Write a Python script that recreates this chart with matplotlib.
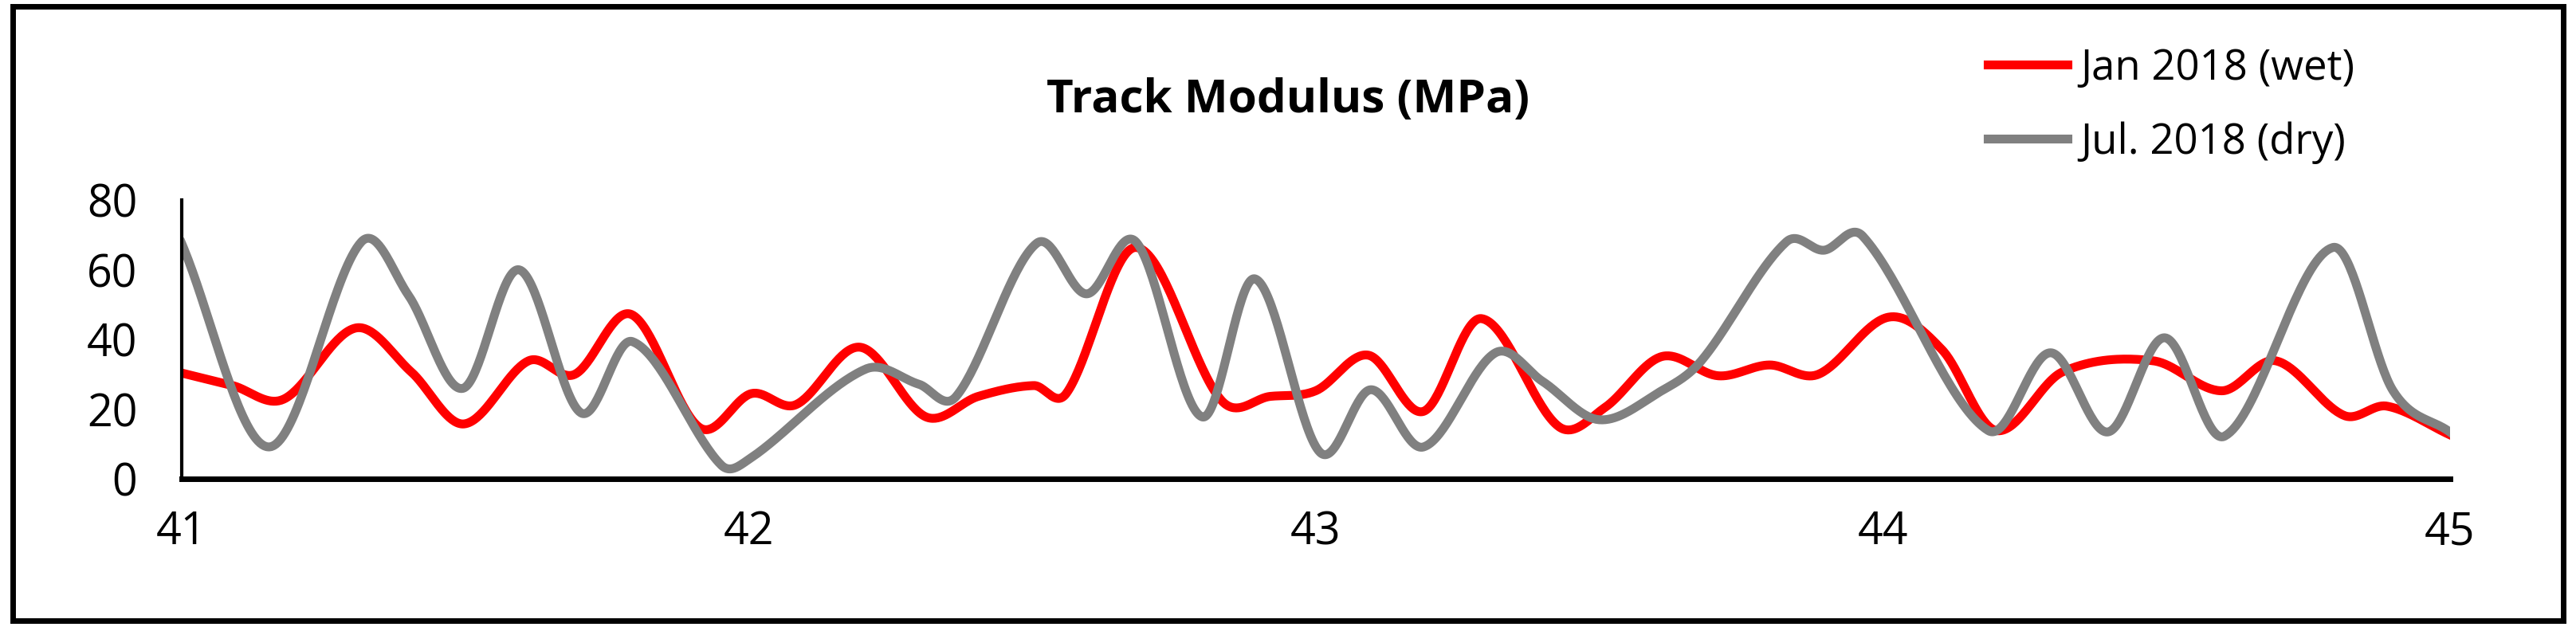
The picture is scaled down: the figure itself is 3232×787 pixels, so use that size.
import numpy as np
import matplotlib
matplotlib.use("Agg")
import matplotlib.pyplot as plt
from matplotlib.patches import Rectangle

plt.rcParams['font.family'] = ['Open Sans', 'DejaVu Sans']

jan_x = [41.0, 41.09, 41.18, 41.307, 41.405, 41.498, 41.612, 41.693, 41.793, 41.914, 42.005, 42.083, 42.196,
         42.313, 42.405, 42.503, 42.56, 42.683, 42.834, 42.92, 43.0, 43.093, 43.19, 43.292, 43.429, 43.51, 43.61,
         43.71, 43.80, 43.886, 44.01, 44.105, 44.20, 44.317, 44.477, 44.598, 44.693, 44.814, 44.889, 45.0]
jan_y = [30.4, 26.8, 22.9, 43.3, 30.7, 15.8, 33.9, 30.0, 47.2, 14.7, 24.5, 21.3, 37.8,
         17.8, 23.7, 26.8, 24.5, 66.4, 22.5, 23.7, 25.3, 35.5, 19.4, 46.0, 15.0, 20.5, 35.1,
         29.6, 32.7, 30.0, 46.4, 37.0, 13.9, 30.7, 33.9, 25.3, 33.9, 18.2, 20.9, 12.7]

jul_x = [41.0, 41.154, 41.317, 41.40, 41.496, 41.595, 41.704, 41.795, 41.951, 42.0, 42.206, 42.30, 42.366,
         42.508, 42.596, 42.683, 42.80, 42.893, 43.008, 43.097, 43.19, 43.317, 43.40, 43.50, 43.61, 43.68,
         43.83, 43.896, 43.965, 44.186, 44.296, 44.397, 44.497, 44.603, 44.794, 44.90, 45.0]
jul_y = [67.6, 9.2, 68.0, 52.7, 26.0, 60.0, 19.0, 39.4, 4.1, 5.6, 31.5, 27.2, 23.7,
         67.6, 53.1, 68.0, 17.8, 57.4, 7.6, 25.6, 9.2, 36.2, 28.0, 17.0, 25.3, 33.9,
         68.0, 65.6, 69.6, 13.9, 36.2, 13.5, 40.5, 12.3, 66.4, 25.3, 13.5]

labels = ["Jan 2018 (wet)", "Jul. 2018 (dry)"]
title = "Track Modulus (MPa)"


def smooth(xs, ys, n=40):
    # cubic Hermite through the points, tangents from neighbouring slopes
    x = np.asarray(xs, float); y = np.asarray(ys, float)
    m = np.zeros_like(y)
    m[1:-1] = (y[2:] - y[:-2]) / (x[2:] - x[:-2])
    m[0] = (y[1] - y[0]) / (x[1] - x[0])
    m[-1] = (y[-1] - y[-2]) / (x[-1] - x[-2])
    ox, oy = [], []
    t = np.linspace(0, 1, n, endpoint=False)
    for i in range(len(x) - 1):
        h = x[i+1] - x[i]
        h00 = 2*t**3 - 3*t**2 + 1; h10 = t**3 - 2*t**2 + t
        h01 = -2*t**3 + 3*t**2; h11 = t**3 - t**2
        ox.extend(x[i] + h*t)
        oy.extend(h00*y[i] + h10*h*m[i] + h01*y[i+1] + h11*h*m[i+1])
    ox.append(x[-1]); oy.append(y[-1])
    return np.array(ox), np.array(oy)


fig = plt.figure(figsize=(32.32, 7.87), dpi=100)
ax = fig.add_axes([0.0705, 0.236, 0.8805, 0.445])
sx, sy = smooth(jan_x, jan_y)
ax.plot(sx, sy, color='#ff0000', lw=8, label=labels[0])
sx, sy = smooth(jul_x, jul_y)
ax.plot(sx, sy, color='#808080', lw=8, label=labels[1])
ax.set_xlim(41, 45)
ax.set_ylim(0, 80)
ax.set_xticks([41, 42, 43, 44, 45])
ax.set_yticks([0, 20, 40, 60, 80])
ax.tick_params(axis='x', length=0, labelsize=40, pad=28)
ax.tick_params(axis='y', length=0, labelsize=40, pad=40)
for s in ['top', 'right']:
    ax.spines[s].set_visible(False)
ax.spines['left'].set_linewidth(3)
ax.spines['bottom'].set_linewidth(5)
ax.set_facecolor('none')

fig.text(0.50, 0.84, title, ha='center', va='center', fontsize=42, fontweight='bold')
fig.legend(loc='upper left', bbox_to_anchor=(0.757, 0.985), frameon=False, fontsize=38,
           handlelength=1.9, labelspacing=0.75, handletextpad=0.3)
fig.patches.append(Rectangle((0.005, 0.01), 0.99, 0.98, transform=fig.transFigure,
                             fill=False, lw=5, edgecolor='black'))
fig.savefig('out.png', dpi=100)
